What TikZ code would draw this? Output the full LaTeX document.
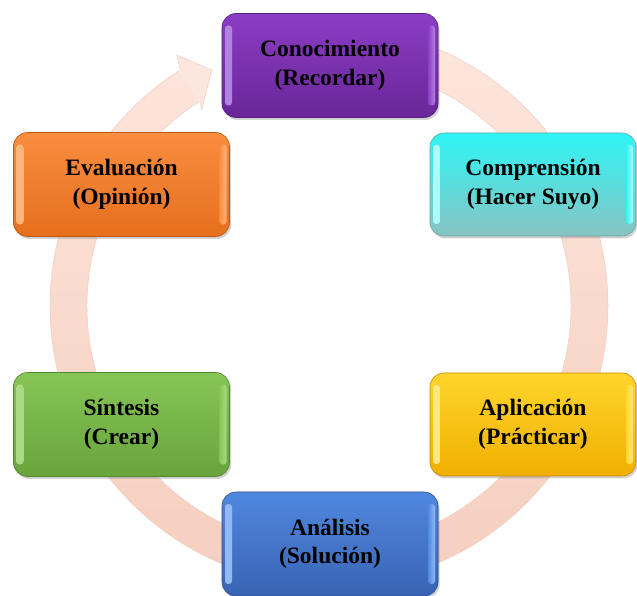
\documentclass[tikz,border=0pt]{standalone}
\usepackage{fontspec}
\setmainfont{Liberation Serif}
\usetikzlibrary{shadows}
\definecolor{purT}{HTML}{8B3DC4}\definecolor{purB}{HTML}{6A2698}\definecolor{purL}{HTML}{B085E0}\definecolor{purD}{HTML}{55207E}
\definecolor{cyaT}{HTML}{2EF5F5}\definecolor{cyaB}{HTML}{88C3C3}\definecolor{cyaL}{HTML}{B0FAFA}\definecolor{cyaD}{HTML}{6AA5A5}
\definecolor{yelT}{HTML}{FFD52C}\definecolor{yelB}{HTML}{F0AF00}\definecolor{yelL}{HTML}{FFE980}\definecolor{yelD}{HTML}{C48C00}
\definecolor{bluT}{HTML}{5088DF}\definecolor{bluB}{HTML}{3963B3}\definecolor{bluL}{HTML}{93BAF3}\definecolor{bluD}{HTML}{2C4F92}
\definecolor{greT}{HTML}{86C556}\definecolor{greB}{HTML}{68A43B}\definecolor{greL}{HTML}{ABDB85}\definecolor{greD}{HTML}{52882D}
\definecolor{oraT}{HTML}{F98D40}\definecolor{oraB}{HTML}{E66F1D}\definecolor{oraL}{HTML}{FBB57C}\definecolor{oraD}{HTML}{BC5712}
\definecolor{bandT}{HTML}{FDE6DD}\definecolor{bandB}{HTML}{F5CEBE}\definecolor{bandE}{HTML}{EFCFC2}
\tikzset{
  cyclebox/.style={rounded corners=14pt, inner sep=0pt, align=center,
    font=\fontsize{23.5}{28.5}\selectfont\bfseries, text=black,
    top color=#1T, bottom color=#1B, draw=#1D, line width=0.6pt,
    drop shadow={shadow xshift=1.5pt, shadow yshift=-2.5pt, opacity=0.35},
    path picture={
      \shade[left color=#1L, right color=#1T, rounded corners=3pt]
        ([xshift=3pt,yshift=12pt]path picture bounding box.south west) rectangle
        ([xshift=10pt,yshift=-12pt]path picture bounding box.north west);
      \shade[left color=#1T, right color=#1L, rounded corners=3pt]
        ([xshift=-10pt,yshift=12pt]path picture bounding box.south east) rectangle
        ([xshift=-3pt,yshift=-12pt]path picture bounding box.north east);
    }},
  widebox/.style={minimum width=216pt, minimum height=104pt},
  sidebox/.style={minimum width=206pt, minimum height=103pt},
}
\begin{document}
\begin{tikzpicture}[x=1pt,y=1pt]
\useasboundingbox (0,0) rectangle (637,596);
\fill[white] (0,0) rectangle (637,596);
\coordinate (O) at (329,290);
% cyclic band
\begin{scope}[shift={(O)}]
  \shade[top color=bandT, bottom color=bandB, draw=bandE, line width=0.5pt]
    (88:279) arc[start angle=88, end angle=-237.8, radius=279]
    -- (-237.8:242) arc[start angle=-237.8, end angle=88, radius=242] -- cycle;
  \fill[bandT, draw=bandE, line width=0.5pt, line join=round]
    (121.25:293.6) -- (116.4:263.5) -- (123:233.7) -- (122.2:242)
    -- (122.2:279) -- cycle;
  \fill[bandT] (122.6:241.5) -- (122.6:279.5) -- (121.8:279.5) -- (121.8:241.5) -- cycle;
\end{scope}
% boxes
\node[cyclebox=pur, widebox] (conoc) at (330,530.5) {Conocimiento\\(Recordar)};
\node[cyclebox=cya, sidebox] (compr) at (533,411.5) {Comprensión\\(Hacer Suyo)};
\node[cyclebox=yel, sidebox] (aplic) at (533,171.5) {Aplicación\\(Prácticar)};
\node[cyclebox=blu, widebox] (anali) at (330,52) {Análisis\\(Solución)};
\node[cyclebox=gre, widebox] (sinte) at (121.5,171.5) {Síntesis\\(Crear)};
\node[cyclebox=ora, widebox] (evalu) at (121.5,411.5) {Evaluación\\(Opinión)};
\end{tikzpicture}
\end{document}
